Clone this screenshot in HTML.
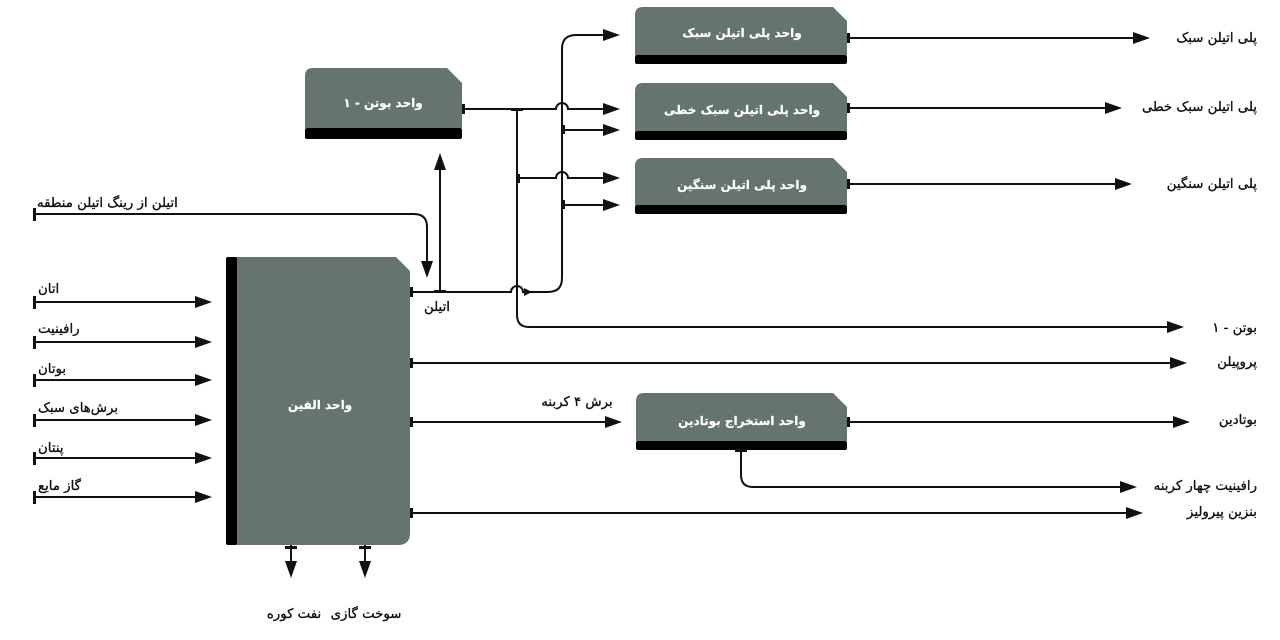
<!DOCTYPE html>
<html><head><meta charset="utf-8">
<style>
html,body{margin:0;padding:0;background:#fff;}
#c{position:relative;width:1280px;height:640px;overflow:hidden;background:#fff;}
svg{position:absolute;left:0;top:0;}
.t{position:absolute;white-space:nowrap;font-family:"DejaVu Sans","Liberation Sans",sans-serif;font-size:13.3px;color:#111;height:16px;line-height:16px;direction:rtl;unicode-bidi:embed;-webkit-text-stroke:0.35px #111;}
.c{transform:translateX(-50%);}
.r{transform:translateX(-100%);}
.w{color:#fff;font-weight:bold;font-size:12px;-webkit-text-stroke:0.2px #fff;}
</style></head><body>
<div id="c">
<svg width="1280" height="640" viewBox="0 0 1280 640">
<g fill="#65746f">
<path d="M236,257 H396 L410,271 V533 Q410,545 398,545 H236 Z"/>
<path d="M313,68 H447 L462,83 V128 H305 V76 Q305,68 313,68 Z"/>
<path d="M643,7 H833 L847,21 V55 H635 V15 Q635,7 643,7 Z"/>
<path d="M643,83 H833 L847,97 V131 H635 V91 Q635,83 643,83 Z"/>
<path d="M643,158 H833 L847,172 V205 H635 V166 Q635,158 643,158 Z"/>
<path d="M644,393 H833 L847,407 V441 H636 V401 Q636,393 644,393 Z"/>
</g>
<g fill="#000">
<rect x="226" y="257" width="11" height="288" rx="2"/>
<rect x="305" y="128" width="157" height="11" rx="2"/>
<rect x="635" y="55" width="212" height="9" rx="2"/>
<rect x="635" y="131" width="212" height="9" rx="2"/>
<rect x="635" y="205" width="212" height="9" rx="2"/>
<rect x="636" y="441" width="211" height="9" rx="2"/>
</g>
<g fill="none" stroke="#111" stroke-width="2">
<path d="M462,109 H556 a6,6 0 0 1 12,0 H604"/>
<path d="M517,109 V315 Q517,327 529,327 H1168"/>
<path d="M517,178 H556 a6,6 0 0 1 12,0 H604"/>
<path d="M410,292 H511 a6,6 0 0 1 12,0 H548 Q562,292 562,278 V49 Q562,35 576,35 H604"/>
<path d="M562,130 H604"/>
<path d="M562,205 H604"/>
<path d="M440,292 V168"/>
<path d="M35,214 H414 Q427,214 427,227 V262"/>
<path d="M35,302 H196 M35,342 H196 M35,380 H196 M35,420 H196 M35,458 H196 M35,497 H196"/>
<path d="M410,363 H1171"/>
<path d="M410,422 H606"/>
<path d="M410,513 H1127"/>
<path d="M847,38 H1134"/>
<path d="M847,108 H1106"/>
<path d="M847,184 H1116"/>
<path d="M847,422 H1174"/>
<path d="M741,450 V475 Q741,487 753,487 H1121"/>
<path d="M291,545 V562 M365,545 V562"/>
</g>
<g fill="#111">
<rect x="33" y="208" width="3" height="13"/>
<rect x="33" y="296" width="3" height="13"/>
<rect x="33" y="336" width="3" height="13"/>
<rect x="33" y="374" width="3" height="13"/>
<rect x="33" y="414" width="3" height="13"/>
<rect x="33" y="452" width="3" height="13"/>
<rect x="33" y="491" width="3" height="13"/>
<rect x="410" y="287" width="3" height="10"/>
<rect x="410" y="358" width="3" height="10"/>
<rect x="410" y="417" width="3" height="10"/>
<rect x="410" y="508" width="3" height="10"/>
<rect x="462" y="104" width="3" height="10"/>
<rect x="847" y="33" width="3" height="10"/>
<rect x="847" y="103" width="3" height="10"/>
<rect x="847" y="179" width="3" height="10"/>
<rect x="847" y="417" width="3" height="10"/>
<rect x="511" y="108" width="12" height="3"/>
<rect x="434" y="290" width="12" height="3"/>
<rect x="517" y="174" width="3" height="9"/>
<rect x="562" y="125" width="3" height="9"/>
<rect x="562" y="200" width="3" height="9"/>
<rect x="735" y="449" width="12" height="3"/>
<rect x="285" y="546" width="12" height="3"/>
<rect x="359" y="546" width="12" height="3"/>
<polygon points="620,35 603,29 603,41"/>
<polygon points="620,109 603,103 603,115"/>
<polygon points="620,130 603,124 603,136"/>
<polygon points="620,178 603,172 603,184"/>
<polygon points="620,205 603,199 603,211"/>
<polygon points="212,302 195,296 195,308"/>
<polygon points="212,342 195,336 195,348"/>
<polygon points="212,380 195,374 195,386"/>
<polygon points="212,420 195,414 195,426"/>
<polygon points="212,458 195,452 195,464"/>
<polygon points="212,497 195,491 195,503"/>
<polygon points="1150,38 1133,32 1133,44"/>
<polygon points="1122,108 1105,102 1105,114"/>
<polygon points="1132,184 1115,178 1115,190"/>
<polygon points="1184,327 1167,321 1167,333"/>
<polygon points="1187,363 1170,357 1170,369"/>
<polygon points="622,422 605,416 605,428"/>
<polygon points="1190,422 1173,416 1173,428"/>
<polygon points="1137,487 1120,481 1120,493"/>
<polygon points="1143,513 1126,507 1126,519"/>
<polygon points="532,292 524,288 524,296"/>
<polygon points="440,153 434,170 446,170"/>
<polygon points="427,278 421,261 433,261"/>
<polygon points="291,578 285,561 297,561"/>
<polygon points="365,578 359,561 371,561"/>
</g>
</svg>

<div class="t c w" style="left:383px;top:95px;">واحد بوتن - ۱</div>
<div class="t c w" style="left:742px;top:25px;">واحد پلی اتیلن سبک</div>
<div class="t c w" style="left:742px;top:102px;">واحد پلی اتیلن سبک خطی</div>
<div class="t c w" style="left:742px;top:177px;">واحد پلی اتیلن سنگین</div>
<div class="t c w" style="left:742px;top:413px;">واحد استخراج بوتادین</div>
<div class="t c w" style="left:320px;top:397px;">واحد الفین</div>

<div class="t c" style="left:437px;top:300px;">اتیلن</div>
<div class="t c" style="left:577px;top:395px;">برش ۴ کربنه</div>

<div class="t r" style="left:1257px;top:31px;">پلی اتیلن سبک</div>
<div class="t r" style="left:1257px;top:100px;">پلی اتیلن سبک خطی</div>
<div class="t r" style="left:1257px;top:177px;">پلی اتیلن سنگین</div>
<div class="t r" style="left:1257px;top:321px;">بوتن - ۱</div>
<div class="t r" style="left:1257px;top:355px;">پروپیلن</div>
<div class="t r" style="left:1257px;top:413px;">بوتادین</div>
<div class="t r" style="left:1257px;top:479px;">رافینیت چهار کربنه</div>
<div class="t r" style="left:1257px;top:505px;">بنزین پیرولیز</div>

<div class="t" style="left:37px;top:196px;">اتیلن از رینگ اتیلن منطقه</div>
<div class="t" style="left:38px;top:282px;">اتان</div>
<div class="t" style="left:38px;top:322px;">رافینیت</div>
<div class="t" style="left:38px;top:362px;">بوتان</div>
<div class="t" style="left:38px;top:401px;">برش‌های سبک</div>
<div class="t" style="left:38px;top:441px;">پنتان</div>
<div class="t" style="left:38px;top:479px;">گاز مایع</div>

<div class="t c" style="left:366px;top:607px;">سوخت گازی</div>
<div class="t c" style="left:294px;top:607px;">نفت کوره</div>
</div>
</body></html>
